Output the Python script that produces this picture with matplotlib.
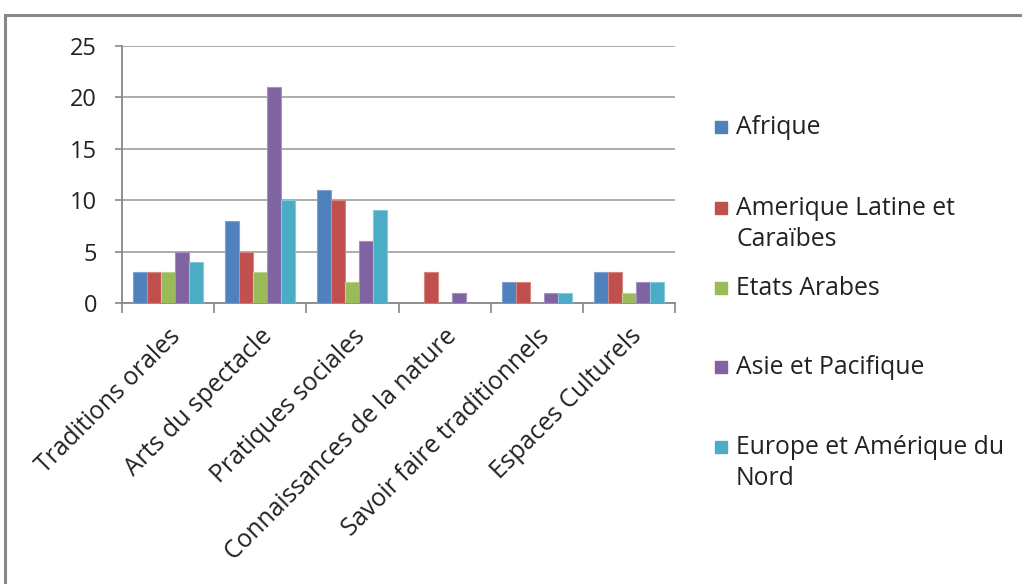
import matplotlib.pyplot as plt
import matplotlib.patches as mpatches
import numpy as np

plt.rcParams['font.family'] = ['Open Sans', 'DejaVu Sans']

categories = ["Traditions orales", "Arts du spectacle", "Pratiques sociales",
              "Connaissances de la nature", "Savoir faire traditionnels", "Espaces Culturels"]
series_names = ["Afrique", "Amerique Latine et\nCaraïbes", "Etats Arabes",
                "Asie et Pacifique", "Europe et Amérique du\nNord"]
afrique = [3, 8, 11, 0, 2, 3]
amerique_latine = [3, 5, 10, 3, 2, 3]
etats_arabes = [3, 3, 2, 0, 0, 1]
asie_pacifique = [5, 21, 6, 1, 1, 2]
europe_amerique = [4, 10, 9, 0, 1, 2]
series = [afrique, amerique_latine, etats_arabes, asie_pacifique, europe_amerique]
colors = ["#4F81BD", "#C0504D", "#9BBB59", "#8064A2", "#4BACC6"]
edges = ["#7FA3D0", "#D58582", "#BBD38E", "#A590C0", "#84C9DA"]

fig = plt.figure(figsize=(10.22, 5.84), dpi=100)
ax = fig.add_axes([122 / 1022, 281 / 584, 553 / 1022, 257 / 584])

# outer frame
fig.add_artist(mpatches.Rectangle((5 / 1022, -0.05), 1.1, 1 - 15 / 584 + 0.05,
                                  transform=fig.transFigure, fill=False,
                                  edgecolor="#888888", linewidth=2.2))

x = np.arange(len(categories))
w = 0.152
for i, (vals, c, ec) in enumerate(zip(series, colors, edges)):
    ax.bar(x + (i - 2) * w, vals, width=w, color=c, edgecolor=ec, linewidth=0.8, zorder=3)

ax.set_xlim(-0.5, len(categories) - 0.5)
ax.set_ylim(0, 25)
ax.set_yticks([0, 5, 10, 15, 20, 25])
ax.yaxis.grid(True, color="#A6A6A6", linewidth=1.3, zorder=0)
ax.tick_params(axis='y', labelsize=17, length=5, color="#888888", width=1.2, pad=13,
               labelcolor="#222222")
ax.set_xticks(x)
ax.set_xticklabels(categories, rotation=45, ha='right', rotation_mode='anchor', fontsize=17.8,
                   color="#222222")
ax.tick_params(axis='x', length=0, pad=15)
ax.set_xticks(np.arange(-0.5, len(categories)), minor=True)
ax.tick_params(axis='x', which='minor', length=7, color="#888888", width=1.2)
for s in ['top', 'right']:
    ax.spines[s].set_visible(False)
for s in ['left', 'bottom']:
    ax.spines[s].set_color("#888888")
    ax.spines[s].set_linewidth(1.3)

# legend drawn by hand, markers evenly spaced like the original
leg_y = [127, 208, 288, 367, 447]
for name, c, yy in zip(series_names, colors, leg_y):
    fig.add_artist(mpatches.Rectangle((715 / 1022, 1 - (yy + 6) / 584), 12 / 1022, 12 / 584,
                                      transform=fig.transFigure, color=c))
    fig.text(736 / 1022, 1 - (yy - 12) / 584, name, fontsize=17.8, va='top', ha='left',
             linespacing=1.3, color="#222222")

fig.savefig("out.png", dpi=100)
